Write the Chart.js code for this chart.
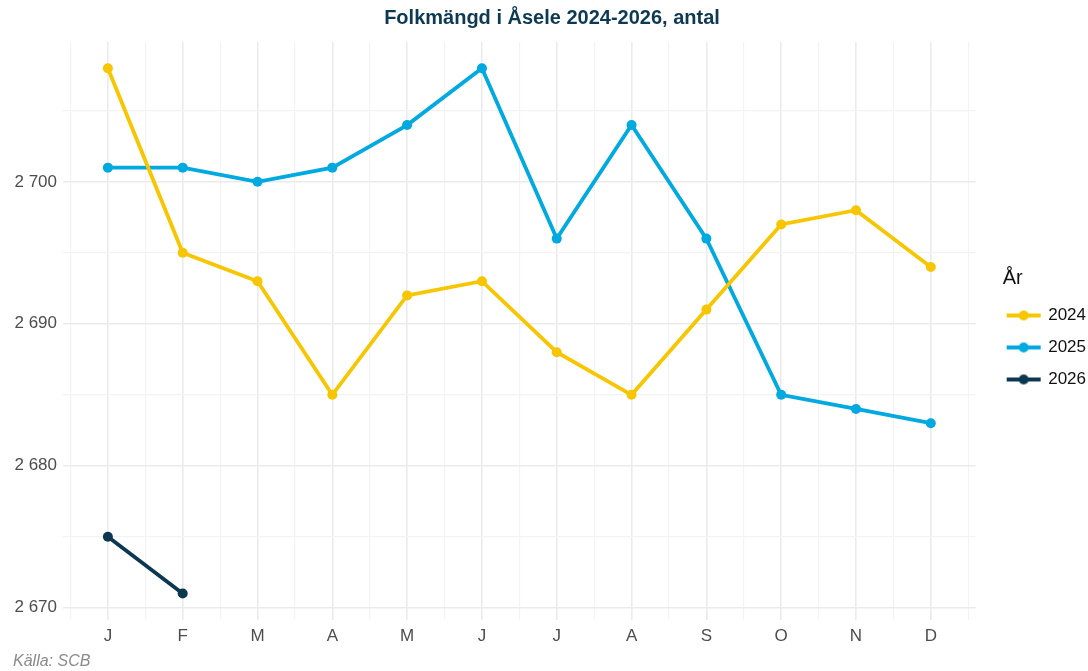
<!DOCTYPE html>
<html>
<head>
<meta charset="utf-8">
<script src="https://cdn.jsdelivr.net/npm/chart.js@4"></script>
<style>
  html, body { margin: 0; padding: 0; background: #fff; }
  #wrap { width: 1088px; height: 671px; }
</style>
</head>
<body>
<div id="wrap"><canvas id="chart" width="1088" height="671"></canvas></div>
<script>
// --- Data ---
const months = ["J", "F", "M", "A", "M", "J", "J", "A", "S", "O", "N", "D"];
const years = ["2024", "2025", "2026"];
const pop2024 = [2708, 2695, 2693, 2685, 2692, 2693, 2688, 2685, 2691, 2697, 2698, 2694];
const pop2025 = [2701, 2701, 2700, 2701, 2704, 2708, 2696, 2704, 2696, 2685, 2684, 2683];
const pop2026 = [2675, 2671];
const yTicks = [2670, 2675, 2680, 2685, 2690, 2695, 2700, 2705];
const colors = ["#f7c600", "#00a9e0", "#0b3850"];

// --- Helpers ---
const toPoints = arr => arr.map((v, i) => ({ x: i + 1, y: v }));
const fmt = v => String(v).replace(/\B(?=(\d{3})+(?!\d))/g, " ");

function legendIcon(color) {
  const c = document.createElement("canvas");
  c.width = 36; c.height = 12;
  const g = c.getContext("2d");
  g.strokeStyle = color; g.lineWidth = 3.8;
  g.beginPath(); g.moveTo(1, 6); g.lineTo(35, 6); g.stroke();
  g.fillStyle = color;
  g.beginPath(); g.arc(18, 6, 5, 0, Math.PI * 2); g.fill();
  return c;
}

const series = [pop2024, pop2025, pop2026];
const datasets = series.map((s, i) => ({
  label: years[i],
  data: toPoints(s),
  borderColor: colors[i],
  backgroundColor: colors[i],
  borderWidth: 3.8,
  pointRadius: 5,
  pointHoverRadius: 5,
  pointBorderWidth: 0,
  pointStyle: "circle",
  tension: 0
}));
const icons = colors.map(legendIcon);

const xTicks = [];
for (let v = 0.5; v <= 12.5; v += 0.5) xTicks.push(v);

const font = "'Liberation Sans', Arial, sans-serif";

// nudge legend away from the panel, and the title a little right
const nudge = {
  id: "nudge",
  afterLayout(chart) {
    const l = chart.legend;
    if (l) { l.left += 17; l.right += 17; }
    const t = chart.titleBlock;
    if (t) { t.left += 6; t.right += 6; }
  }
};

// --- Chart ---
new Chart(document.getElementById("chart"), {
  type: "line",
  data: { datasets },
  plugins: [nudge],
  options: {
    responsive: false,
    animation: false,
    layout: { padding: { left: 13, right: 9, top: 0, bottom: 0 } },
    plugins: {
      title: {
        display: true,
        text: "Folkmängd i Åsele 2024-2026, antal",
        color: "#0d3a52",
        font: { family: font, size: 20, weight: "bold" },
        padding: { top: 6, bottom: 12 }
      },
      subtitle: {
        display: true,
        position: "bottom",
        align: "start",
        text: "Källa: SCB",
        color: "#8a8a8a",
        font: { family: font, size: 16, style: "italic" },
        padding: { top: 0, bottom: 0 }
      },
      legend: {
        position: "right",
        align: "center",
        title: {
          display: true,
          text: "\u2002År",
          position: "start",
          color: "#111",
          font: { family: font, size: 20 },
          padding: { top: 0, bottom: 0 }
        },
        labels: {
          usePointStyle: true,
          pointStyleWidth: 32,
          color: "#222",
          font: { family: font, size: 17 },
          padding: 15,
          generateLabels: chart => chart.data.datasets.map((d, i) => ({
            text: d.label,
            pointStyle: icons[i],
            fillStyle: d.borderColor,
            strokeStyle: d.borderColor,
            lineWidth: 0,
            datasetIndex: i
          }))
        }
      },
      tooltip: { enabled: false }
    },
    scales: {
      x: {
        type: "linear",
        min: 0.4,
        max: 12.6,
        afterBuildTicks: s => { s.ticks = xTicks.map(v => ({ value: v })); },
        afterFit: s => { s.height = 32; },
        ticks: {
          autoSkip: false,
          maxRotation: 0,
          color: "#4d4d4d",
          font: { family: font, size: 17 },
          padding: 6,
          callback: v => Number.isInteger(v) ? months[v - 1] : ""
        },
        grid: {
          drawTicks: false,
          lineWidth: c => Number.isInteger(c.tick.value) ? 1.6 : 1.2,
          color: c => Number.isInteger(c.tick.value) ? "#ebebeb" : "#f3f3f3"
        },
        border: { display: false }
      },
      y: {
        min: 2669.15,
        max: 2709.85,
        afterBuildTicks: s => { s.ticks = yTicks.map(v => ({ value: v })); },
        afterFit: s => { s.width = 50; },
        ticks: {
          color: "#4d4d4d",
          font: { family: font, size: 17 },
          padding: 6,
          callback: v => v % 10 === 0 ? fmt(v) : ""
        },
        grid: {
          drawTicks: false,
          lineWidth: c => c.tick.value % 10 === 0 ? 1.6 : 1.2,
          color: c => c.tick.value % 10 === 0 ? "#ebebeb" : "#f3f3f3"
        },
        border: { display: false }
      }
    }
  }
});
</script>
</body>
</html>
